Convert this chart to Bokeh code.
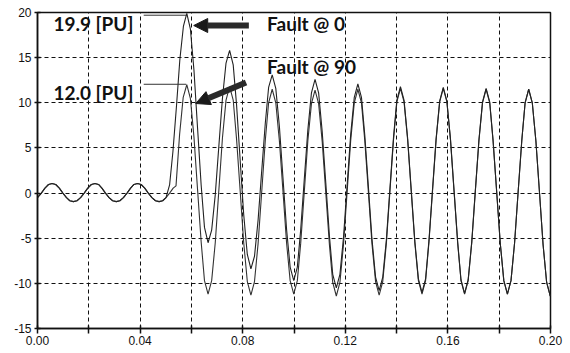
from bokeh.plotting import figure
from bokeh.models import Range1d, FixedTicker, Label, Arrow, NormalHead
from bokeh.embed import file_html
from bokeh.resources import INLINE

# ---------------- data ----------------
pre_t = [0.0000, 0.0015, 0.0029, 0.0043, 0.0057, 0.0071, 0.0085, 0.0099, 0.0113, 0.0126,
         0.0140, 0.0154, 0.0168, 0.0182, 0.0196, 0.0210, 0.0224, 0.0238, 0.0251, 0.0265,
         0.0279, 0.0293, 0.0307, 0.0321, 0.0335, 0.0349, 0.0363, 0.0376, 0.0390, 0.0404,
         0.0418, 0.0432, 0.0446, 0.0460, 0.0474, 0.0488, 0.0501]
pre_v = [-0.5, 0.0, 0.55, 0.95, 1.05, 0.95, 0.55, 0.0, -0.5, -0.85,
         -0.95, -0.85, -0.5, 0.0, 0.55, 0.95, 1.05, 0.95, 0.55, 0.0,
         -0.5, -0.85, -0.95, -0.85, -0.5, 0.0, 0.55, 0.95, 1.05, 0.95,
         0.55, 0.0, -0.5, -0.85, -0.95, -0.85, -0.5]

f0_rise_t = [0.0515, 0.0528, 0.0542, 0.0555, 0.0569]
f0_rise_v = [0.9, 4.6, 9.7, 14.8, 18.5]
f90_rise_t = [0.0515, 0.0529, 0.0540, 0.0554, 0.0568]
f90_rise_v = [0.0, 0.55, 0.8, 6.5, 10.6]

post_t = [0.0582, 0.0596, 0.0610, 0.0624, 0.0638, 0.0651,
          0.0665, 0.0679, 0.0693, 0.0707, 0.0721, 0.0735,
          0.0749, 0.0763, 0.0776, 0.0790, 0.0804, 0.0818,
          0.0832, 0.0846, 0.0860, 0.0874, 0.0888, 0.0901,
          0.0915, 0.0929, 0.0943, 0.0957, 0.0971, 0.0985,
          0.0999, 0.1013, 0.1026, 0.1040, 0.1054, 0.1068,
          0.1082, 0.1096, 0.1110, 0.1124, 0.1138, 0.1151,
          0.1165, 0.1179, 0.1193, 0.1207, 0.1221, 0.1235,
          0.1249, 0.1263, 0.1276, 0.1290, 0.1304, 0.1318,
          0.1332, 0.1346, 0.1360, 0.1374, 0.1388, 0.1401,
          0.1415, 0.1429, 0.1443, 0.1457, 0.1471, 0.1485,
          0.1499, 0.1513, 0.1526, 0.1540, 0.1554, 0.1568,
          0.1582, 0.1596, 0.1610, 0.1624, 0.1638, 0.1651,
          0.1665, 0.1679, 0.1693, 0.1707, 0.1721, 0.1735,
          0.1749, 0.1763, 0.1776, 0.1790, 0.1804, 0.1818,
          0.1832, 0.1846, 0.1860, 0.1874, 0.1888, 0.1901,
          0.1915, 0.1929, 0.1943, 0.1957, 0.1971, 0.1985,
          0.1999]

fault0_v = [19.9, 18.2, 13.6, 7.2, 0.9, -3.8,
            -5.5, -4.1, -0.2, 5.2, 10.5, 14.4,
            15.8, 14.2, 9.8, 3.7, -2.4, -6.8,
            -8.4, -7.0, -3.0, 2.4, 7.7, 11.7,
            13.1, 11.6, 7.4, 1.7, -4.0, -8.2,
            -9.7, -8.2, -4.1, 1.5, 7.0, 11.1,
            12.6, 11.1, 6.8, 1.1, -4.7, -9.0,
            -10.5, -9.0, -4.9, 0.8, 6.5, 10.6,
            12.1, 10.6, 6.4, 0.7, -5.1, -9.3,
            -10.8, -9.3, -5.2, 0.5, 6.2, 10.3,
            11.8, 10.3, 6.1, 0.4, -5.3, -9.5,
            -11.0, -9.5, -5.3, 0.4, 6.0, 10.2,
            11.7, 10.2, 6.0, 0.3, -5.4, -9.6,
            -11.1, -9.6, -5.4, 0.3, 5.9, 10.1,
            11.6, 10.1, 5.9, 0.2, -5.5, -9.7,
            -11.2, -9.7, -5.5, 0.2, 5.8, 10.0,
            11.5, 10.0, 5.8, 0.1, -5.7, -9.9,
            -11.4]

fault90_v = [12.0, 10.5, 6.2, 0.4, -5.4, -9.7,
             -11.2, -9.7, -5.5, 0.3, 6.1, 10.3,
             11.8, 10.3, 6.0, 0.3, -5.5, -9.8,
             -11.3, -9.8, -5.6, 0.1, 5.8, 10.0,
             11.5, 10.0, 5.8, 0.2, -5.5, -9.7,
             -11.2, -9.7, -5.6, 0.1, 5.8, 9.9,
             11.4, 9.9, 5.7, 0.0, -5.7, -9.9,
             -11.4, -9.9, -5.7, 0.1, 5.8, 10.0,
             11.5, 10.0, 5.8, 0.1, -5.6, -9.8,
             -11.3, -9.8, -5.6, 0.2, 5.9, 10.1,
             11.6, 10.1, 5.9, 0.2, -5.5, -9.7,
             -11.2, -9.7, -5.5, 0.2, 5.9, 10.1,
             11.6, 10.1, 5.9, 0.2, -5.5, -9.7,
             -11.2, -9.7, -5.5, 0.2, 5.8, 10.0,
             11.5, 10.0, 5.8, 0.2, -5.5, -9.7,
             -11.2, -9.7, -5.5, 0.2, 5.8, 10.0,
             11.5, 10.0, 5.8, 0.1, -5.7, -9.9,
             -11.4]

x_ticks = [0.0, 0.02, 0.04, 0.06, 0.08, 0.10, 0.12, 0.14, 0.16, 0.18, 0.20]
x_tick_labels = ["0.00", "", "0.04", "", "0.08", "", "0.12", "", "0.16", "", "0.20"]
y_ticks = [-15, -10, -5, 0, 5, 10, 15, 20]
y_tick_labels = ["-15", "-10", "-5", "0", "5", "10", "15", "20"]
x_unit = "[s]"
y_unit = "[PU]"
peak0_text = "19.9 [PU]"
peak90_text = "12.0 [PU]"
note0_text = "Fault @ 0"
note90_text = "Fault @ 90"

# ---------------- figure ----------------
p = figure(frame_width=513, frame_height=316,
           x_range=Range1d(0, 0.2), y_range=Range1d(-15, 20),
           output_backend="svg", toolbar_location=None,
           min_border_left=37, min_border_right=18, min_border_top=12, min_border_bottom=24,
           background_fill_color="white", border_fill_color="white")

p.outline_line_color = "#111111"
p.outline_line_width = 1.5

for ax in (p.xaxis, p.yaxis):
    ax.axis_line_color = "#111111"
    ax.axis_line_width = 1.5
    ax.major_tick_line_color = "#111111"
    ax.major_tick_line_width = 1.5
    ax.minor_tick_line_color = None
    ax.major_label_text_font = "Liberation Sans"
    ax.major_label_text_font_size = "12px"
    ax.major_label_text_color = "#111111"

p.xaxis.ticker = FixedTicker(ticks=x_ticks)
p.xaxis.major_label_overrides = {k: v for k, v in zip(x_ticks, x_tick_labels)}
p.xaxis.major_tick_in = 3
p.xaxis.major_tick_out = 5
p.xaxis.major_label_standoff = 2

p.yaxis.ticker = FixedTicker(ticks=y_ticks)
p.yaxis.major_label_overrides = {k: v for k, v in zip(y_ticks, y_tick_labels)}
p.yaxis.major_tick_in = 3
p.yaxis.major_tick_out = 3
p.yaxis.major_label_standoff = 3

p.xgrid.ticker = FixedTicker(ticks=x_ticks)
p.ygrid.ticker = FixedTicker(ticks=y_ticks)
for g in (p.xgrid, p.ygrid):
    g.grid_line_color = "#111111"
    g.grid_line_dash = "4 3"
    g.grid_line_width = 1

# ---------------- curves ----------------
t0 = pre_t + f0_rise_t + post_t
v0 = pre_v + f0_rise_v + fault0_v
t90 = pre_t + f90_rise_t + post_t
v90 = pre_v + f90_rise_v + fault90_v

p.line(t90, v90, line_color="#333333", line_width=1.1)
p.line(t0, v0, line_color="#222222", line_width=1.1)

# ---------------- annotations ----------------
p.segment(x0=[0.0414, 0.0414], y0=[19.7, 12.05], x1=[0.0582, 0.0580], y1=[19.7, 12.05],
          line_color="#333333", line_width=1)

bold = dict(text_font="Lato", text_font_style="bold", text_font_size="19px",
            text_color="#111111", text_baseline="alphabetic")
p.add_layout(Label(x=0.0062, y=18.75, text=peak0_text, **bold))
p.add_layout(Label(x=0.0062, y=11.1, text=peak90_text, **bold))
p.add_layout(Label(x=0.0895, y=18.8, text=note0_text, **bold))
p.add_layout(Label(x=0.0895, y=14.05, text=note90_text, **bold))

p.add_layout(Label(x=-0.0016, y=17.4, text=y_unit, text_font="Liberation Sans",
                   text_font_size="12px", text_color="#111111",
                   text_align="right", text_baseline="middle"))
p.add_layout(Label(x=0.1855, y=-15, y_offset=-8, text=x_unit, text_font="Liberation Sans",
                   text_font_size="12px", text_color="#111111",
                   text_align="center", text_baseline="top"))

head1 = NormalHead(size=14, fill_color="#1a1a1a", line_color="#1a1a1a")
p.add_layout(Arrow(end=head1, x_start=0.0824, y_start=18.56, x_end=0.0609, y_end=18.56,
                   line_width=6, line_color="#2a2a2a"))
head2 = NormalHead(size=14, fill_color="#1a1a1a", line_color="#1a1a1a")
p.add_layout(Arrow(end=head2, x_start=0.0813, y_start=12.25, x_end=0.0617, y_end=9.92,
                   line_width=6, line_color="#2a2a2a"))

open("out.html", "w").write(file_html(p, INLINE))
